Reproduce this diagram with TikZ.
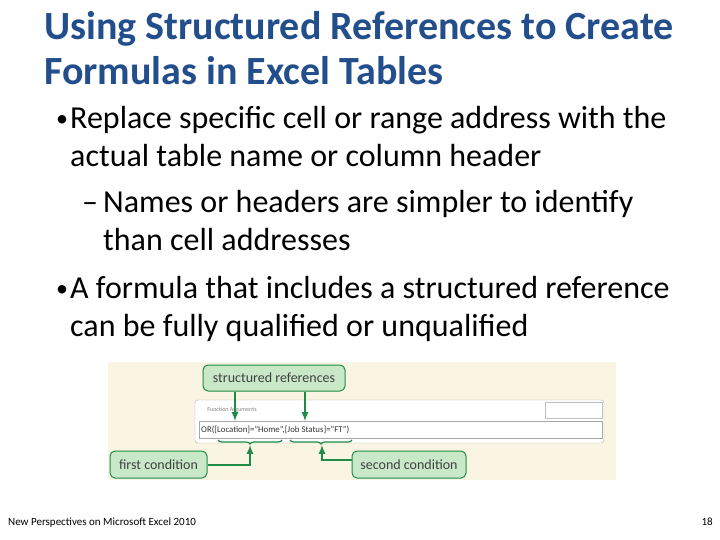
\documentclass[tikz,border=0pt]{standalone}
\usepackage{fontspec}
\setmainfont{Carlito}
\usetikzlibrary{positioning,decorations.pathreplacing}
\definecolor{titleblue}{RGB}{34,78,140}
\definecolor{calloutgreen}{RGB}{30,140,70}
\definecolor{calloutfill}{RGB}{200,232,200}
\definecolor{paper}{RGB}{250,245,226}
\tikzset{
  callout/.style={draw=calloutgreen,fill=calloutfill,rounded corners=5pt,line width=1pt,
    inner sep=0pt,font=\fontsize{14}{16}\selectfont,text=black!75},
  pointer/.style={calloutgreen,line width=2pt,-latex},
  bodytext/.style={anchor=base west,inner sep=0pt,font=\fontsize{32}{36}\selectfont},
  bulletmark/.style={anchor=base west,inner sep=0pt,font=\fontsize{24}{28}\selectfont},
}
\begin{document}
\begin{tikzpicture}[x=1pt,y=-1pt]
	\useasboundingbox (0,0) rectangle (720,540);

	%Title
	\node[anchor=base west,inner sep=0pt,text=titleblue,font=\bfseries\fontsize{40}{44}\selectfont] (title1) at (44,40) {Using Structured References to Create};
	\node[anchor=base west,inner sep=0pt,text=titleblue,font=\bfseries\fontsize{40}{44}\selectfont] (title2) at (44,85) {Formulas in Excel Tables};

	%Bullets
	\node[bulletmark] (b1) at (56,127) {\textbullet};
	\node[bodytext] (t1) at (70,129) {Replace specific cell or range address with the};
	\node[bodytext] (t1b) at (70,167) {actual table name or column header};
	\node[bodytext] (d1) at (82,213) {--};
	\node[bodytext] (t2) at (103,213) {Names or headers are simpler to identify};
	\node[bodytext] (t2b) at (103,251) {than cell addresses};
	\node[bulletmark] (b2) at (56,296) {\textbullet};
	\node[bodytext] (t3) at (70,298) {A formula that includes a structured reference};
	\node[bodytext] (t3b) at (70,336) {can be fully qualified or unqualified};

	%Screenshot
	\fill[paper] (108,362) rectangle (616,480);
	\draw[gray!60,fill=white,rounded corners=3pt] (195,400) rectangle (604,443);
	\draw[gray!50] (545,402) rectangle (602,418);
	\node[inner sep=0pt,font=\fontsize{6}{7}\selectfont,text=gray] (dlg) at (232,410) {Function Arguments};
	\draw[gray!70,fill=white] (199,421) rectangle (602,438);
	\node[anchor=west,inner sep=0pt,font=\fontsize{8.8}{10}\selectfont,text=black!80] (formula) at (201,429.5) {OR([Location]="Home",[Job Status]="FT")};
	\coordinate (loc) at (235,421);
	\coordinate (job) at (305,421);
	\draw[calloutgreen,line width=1.2pt,decorate,decoration={brace,amplitude=4pt}] (282,440) -- (218,440);
	\draw[calloutgreen,line width=1.2pt,decorate,decoration={brace,amplitude=4pt}] (352,440) -- (290,440);
	\coordinate (brace1) at (250,445);
	\coordinate (brace2) at (322,445);

	%Callouts
	\node[callout,minimum width=142pt,minimum height=26pt] (refs) at (274,378) {structured references};
	\node[callout,minimum width=97pt,minimum height=27pt] (first) at (158.5,464.5) {first condition};
	\node[callout,minimum width=114pt,minimum height=27pt] (second) at (409,464.5) {second condition};

	\draw[pointer] (refs.south -| loc) -- (loc);
	\draw[pointer] (refs.south -| job) -- (job);
	\draw[pointer] (first.east) -| (brace1);
	\draw[pointer] ([yshift=5pt]second.west) -| (brace2);

	%Footer
	\node[anchor=base west,inner sep=0pt,font=\fontsize{11}{13}\selectfont] (foot) at (8,525) {New Perspectives on Microsoft Excel 2010};
	\node[anchor=base east,inner sep=0pt,font=\fontsize{11}{13}\selectfont] (page) at (713,525) {18};
\end{tikzpicture}
\end{document}
